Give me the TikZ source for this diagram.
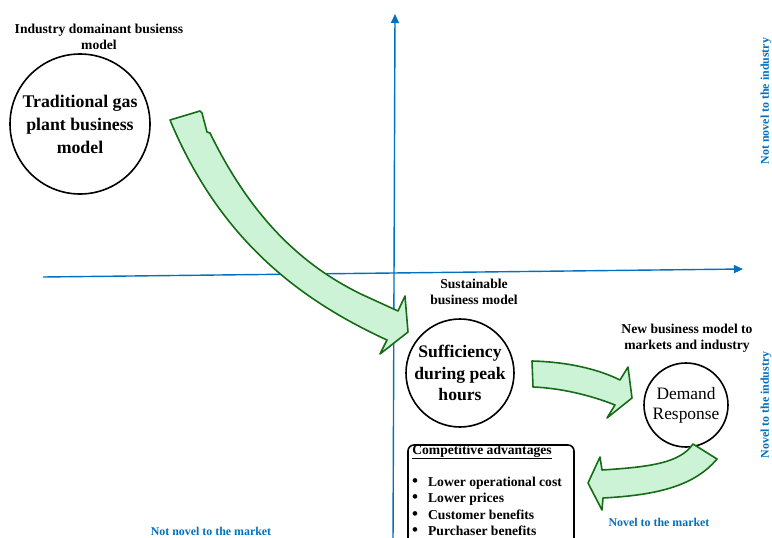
\documentclass[tikz,border=0pt]{standalone}
\usepackage{fontspec}
\setmainfont{Liberation Serif}
\usetikzlibrary{arrows.meta}
\definecolor{axisblue}{RGB}{0,112,192}
\definecolor{arrowfill}{RGB}{204,243,214}
\definecolor{arrowline}{RGB}{22,108,22}
\newcommand{\advbullet}{\smash{\fontsize{17}{15}\selectfont\textbullet}\hspace{10pt}}
\tikzset{
  axisline/.style={axisblue, line width=1.4pt, -{Triangle[length=9pt,width=8pt]}},
  bubble/.style={circle, draw, line width=1.6pt, inner sep=0pt, align=center},
  lbl/.style={align=center, font=\fontsize{13.6}{16}\selectfont\bfseries},
  side/.style={axisblue, font=\fontsize{11.9}{13}\selectfont\bfseries},
  bigarrow/.style={fill=arrowfill, draw=arrowline, line width=1.6pt, line join=round},
  item/.style={anchor=west, font=\fontsize{13.6}{15}\selectfont\bfseries, inner sep=0pt},
}
\begin{document}
\begin{tikzpicture}[x=1pt, y=-1pt]
\useasboundingbox (0,0) rectangle (772,538);
% axes
\coordinate (ybot) at (393,545);
\coordinate (ytop) at (395,14);
\coordinate (xl) at (43,277);
\coordinate (xr) at (743,269);
\draw[axisline] (ybot) -- (ytop);
\draw[axisline] (xl) -- (xr);
% bubbles
\node[bubble, minimum size=140pt, font=\fontsize{17.8}{23}\selectfont\bfseries] (trad) at (80,124) {Traditional gas\\plant business\\model};
\node[bubble, minimum size=108pt, font=\fontsize{17.6}{21.5}\selectfont\bfseries] (suff) at (460,373) {Sufficiency\\during peak\\hours};
\node[bubble, minimum size=84pt, font=\fontsize{17.4}{20}\selectfont] (dr) at (686,405) {Demand\\Response};
% labels
\node[lbl] (ind) at (99,37) {Industry domainant busienss\\model};
\node[lbl] (sus) at (474,292) {Sustainable\\business model};
\node[lbl] (newbm) at (687,338) {New business model to\\markets and industry};
\node[side, rotate=90] (nni) at (766,101) {Not novel to the industry};
\node[side, rotate=90] (ni) at (766,405) {Novel to the industry};
\node[side] (nnm) at (211,531) {Not novel to the market};
\node[side] (nm) at (659,522) {Novel to the market};
% advantages box
\draw[line width=1.6pt, rounded corners=6pt] (408,445) rectangle (574,548);
\node[item, anchor=center] (advt) at (482,452) {\underline{Competitive advantages}};
\node[item] (adv1) at (412,483) {\advbullet Lower operational cost};
\node[item] (adv2) at (412,499) {\advbullet Lower prices};
\node[item] (adv3) at (412,515) {\advbullet Customer benefits};
\node[item] (adv4) at (412,531) {\advbullet Purchaser benefits};
% green arrows
\draw[bigarrow] (170,120) -- (200,111) -- (202,113) -- (207,132) -- (210,133)
  .. controls (250,215) and (300,265) .. (363,295) -- (398,311) -- (405,296)
  -- (408,332) -- (380,354) -- (387,340)
  .. controls (300,300) and (220,240) .. (170,120) -- cycle;
\draw[bigarrow] (532,361) .. controls (570,362) and (600,370) .. (620,380)
  -- (628,367) -- (632,398) -- (607,418) -- (615,405)
  .. controls (590,395) and (560,388) .. (533,387) -- cycle;
\draw[bigarrow] (693,444) -- (717,459) .. controls (695,485) and (660,495) .. (603,498)
  -- (602,510) -- (588,483) -- (600,457) -- (602,470)
  .. controls (650,467) and (680,463) .. (693,444) -- cycle;
\end{tikzpicture}
\end{document}
